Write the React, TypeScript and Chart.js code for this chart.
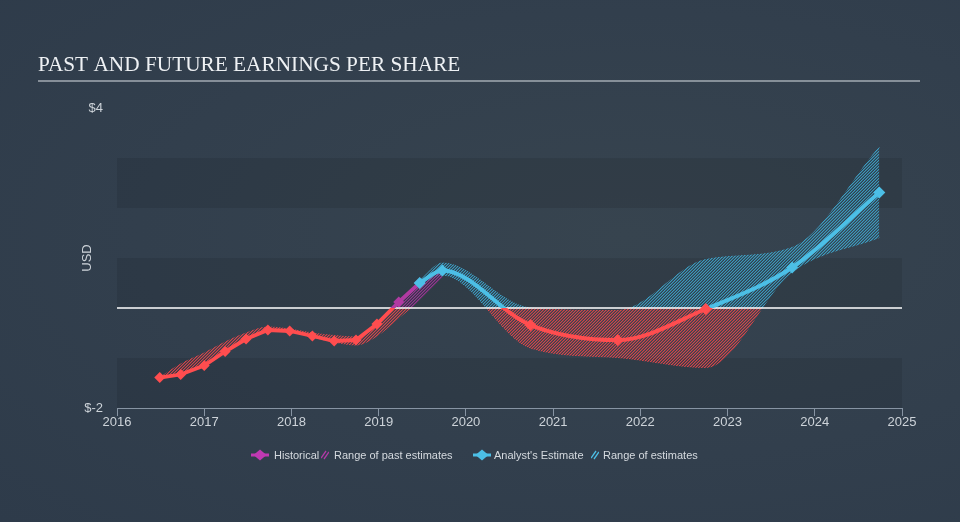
import React, { useEffect, useRef } from 'react';
import { Chart, registerables } from 'chart.js';

Chart.register(...registerables);

// ---------- data ----------
const histYears = [2016.49, 2016.73, 2017.0, 2017.24, 2017.48, 2017.73, 2017.98, 2018.24, 2018.49, 2018.74, 2018.98, 2019.23, 2019.47];
const histEps = [-1.39, -1.33, -1.15, -0.87, -0.62, -0.44, -0.46, -0.56, -0.66, -0.64, -0.32, 0.12, 0.5];

const estYears = [2019.47, 2019.73, 2020.74, 2021.74, 2022.75, 2023.74, 2024.74];
const estEps = [0.5, 0.75, -0.34, -0.64, -0.02, 0.81, 2.31];

const pastRangeYears = [2016.49, 2016.73, 2017.0, 2017.24, 2017.48, 2017.73, 2017.98, 2018.24, 2018.49, 2018.74, 2018.98, 2019.23, 2019.47, 2019.73];
const pastHigh = [-1.39, -1.12, -0.9, -0.68, -0.5, -0.38, -0.42, -0.5, -0.55, -0.58, -0.32, 0.12, 0.5, 0.75];
const pastLow = [-1.39, -1.33, -1.15, -0.87, -0.62, -0.44, -0.46, -0.58, -0.68, -0.74, -0.56, -0.2, 0.16, 0.62];

const estRangeYears = [2019.47, 2019.73, 2020.74, 2021.74, 2022.75, 2023.74, 2024.74];
const estHigh = [0.55, 0.9, 0.0, -0.05, 0.97, 1.21, 3.22];
const estLow = [0.45, 0.66, -0.8, -0.99, -1.19, 0.72, 1.41];

const yTickValues = [-2, 4];
const yTickLabels = ['$-2', '$4'];

const TITLE = 'PAST AND FUTURE EARNINGS PER SHARE';
const legendLabels = ['Historical', 'Range of past estimates', "Analyst's Estimate", 'Range of estimates'];

// ---------- style ----------
const RED = '#ff4d4f';
const MAGENTA = '#b13aa2';
const CYAN = '#4cbfe6';
const RED_RGB = [236, 70, 74];
const MAGENTA_RGB = [168, 50, 158];
const CYAN_RGB = [62, 168, 208];
const AXIS = '#8794a3';
const TEXT = '#cdd3d9';
const BAND = 'rgba(0,0,0,0.09)';
const bandRanges = [[-2, -1], [0, 1], [2, 3]];
const FONT = '"Liberation Sans", Arial, Helvetica, sans-serif';

const toPts = (xs: number[], ys: number[]) => xs.map((x, i) => ({ x, y: ys[i] }));

function splitGradient(chart: any, above: string, below: string) {
  const { ctx, chartArea, scales } = chart;
  if (!chartArea || !scales || !scales.y) return below;
  const z = scales.y.getPixelForValue(0);
  const g = ctx.createLinearGradient(0, chartArea.top, 0, chartArea.bottom);
  let p = (z - chartArea.top) / (chartArea.bottom - chartArea.top);
  p = Math.min(1, Math.max(0, p));
  g.addColorStop(0, above);
  g.addColorStop(p, above);
  g.addColorStop(p, below);
  g.addColorStop(1, below);
  return g;
}

const patternCache: Record<string, any> = {};
function splitPattern(chart: any, above: number[], below: number[]) {
  const { chartArea, scales, width, height, ctx } = chart;
  if (!chartArea || !scales || !scales.y) return `rgba(${below.join(',')},0.35)`;
  const z = Math.round(scales.y.getPixelForValue(0));
  const key = `${chart.id}-${width}-${height}-${z}-${above.join()}-${below.join()}`;
  if (patternCache[key]) return patternCache[key];
  const c = document.createElement('canvas');
  c.width = width;
  c.height = height;
  const g = c.getContext('2d')!;
  const img = g.createImageData(width, height);
  const d = img.data;
  for (let y = 0; y < height; y++) {
    const col = y < z ? above : below;
    for (let x = 0; x < width; x++) {
      const ph = (x + y) % 3;
      const a = ph === 0 ? 215 : ph === 1 ? 100 : 10;
      const i = (y * width + x) * 4;
      d[i] = col[0];
      d[i + 1] = col[1];
      d[i + 2] = col[2];
      d[i + 3] = a;
    }
  }
  g.putImageData(img, 0, 0);
  const pat = ctx.createPattern(c, 'no-repeat');
  patternCache[key] = pat;
  return pat;
}

const bandsPlugin = {
  id: 'bands',
  beforeDraw(chart: any) {
    const { ctx, chartArea, scales } = chart;
    if (!chartArea) return;
    const y = scales.y;
    ctx.save();
    ctx.fillStyle = BAND;
    for (const [a, b] of bandRanges) {
      const t = y.getPixelForValue(b);
      const bt = y.getPixelForValue(a);
      ctx.fillRect(chartArea.left, t, chartArea.right - chartArea.left, bt - t);
    }
    ctx.restore();
  },
};

const underlinePlugin = {
  id: 'underline',
  afterDraw(chart: any) {
    const { ctx } = chart;
    const tb = chart.titleBlock;
    if (!tb) return;
    ctx.save();
    ctx.strokeStyle = '#a3abb3';
    ctx.lineWidth = 1.5;
    ctx.beginPath();
    ctx.moveTo(tb.left, 81);
    ctx.lineTo(920, 81);
    ctx.stroke();
    ctx.restore();
  },
};

function HatchIcon({ color }: { color: string }) {
  return (
    <svg width="8" height="10" style={{ display: 'block' }}>
      <line x1="0" y1="8" x2="5" y2="1" stroke={color} strokeWidth="1.3" />
      <line x1="3" y1="9" x2="8" y2="2" stroke={color} strokeWidth="1.3" />
    </svg>
  );
}

function LineIcon({ color }: { color: string }) {
  return (
    <svg width="18" height="12" style={{ display: 'block' }}>
      <line x1="0" y1="6" x2="18" y2="6" stroke={color} strokeWidth="3" />
      <polygon points="9,0.5 15.5,6 9,11.5 2.5,6" fill={color} />
    </svg>
  );
}

export default function App() {
  const ref = useRef<HTMLCanvasElement>(null);

  useEffect(() => {
    const canvas = ref.current!;
    const chart = new Chart(canvas, {
      type: 'line',
      data: {
        datasets: [
          {
            label: legendLabels[2],
            data: toPts(estYears, estEps),
            borderColor: (c: any) => splitGradient(c.chart, CYAN, RED),
            borderWidth: 4,
            cubicInterpolationMode: 'monotone',
            pointStyle: 'rectRot',
            pointRadius: 6,
            pointBorderWidth: 0,
            pointBackgroundColor: (c: any) => (c.raw && c.raw.y < 0 ? RED : CYAN),
            fill: false,
            order: 0,
          },
          {
            label: legendLabels[0],
            data: toPts(histYears, histEps),
            borderColor: (c: any) => splitGradient(c.chart, MAGENTA, RED),
            borderWidth: 3.8,
            tension: 0,
            pointStyle: 'rectRot',
            pointRadius: 5.5,
            pointBorderWidth: 0,
            pointBackgroundColor: (c: any) => (c.raw && c.raw.y < 0 ? RED : MAGENTA),
            fill: false,
            order: 0,
          },
          {
            label: 'zero',
            data: [{ x: 2016, y: 0 }, { x: 2025, y: 0 }],
            borderColor: '#ffffff',
            borderWidth: 1.5,
            pointRadius: 0,
            fill: false,
            order: 1,
          },
          {
            label: legendLabels[1],
            data: toPts(pastRangeYears, pastHigh),
            borderColor: (c: any) => splitPattern(c.chart, MAGENTA_RGB, RED_RGB),
            backgroundColor: (c: any) => splitPattern(c.chart, MAGENTA_RGB, RED_RGB),
            borderWidth: 1,
            pointRadius: 0,
            cubicInterpolationMode: 'monotone',
            fill: '+1',
            order: 2,
          },
          {
            label: 'past low',
            data: toPts(pastRangeYears, pastLow),
            borderColor: (c: any) => splitPattern(c.chart, MAGENTA_RGB, RED_RGB),
            borderWidth: 1,
            pointRadius: 0,
            cubicInterpolationMode: 'monotone',
            fill: false,
            order: 2,
          },
          {
            label: legendLabels[3],
            data: toPts(estRangeYears, estHigh),
            borderColor: (c: any) => splitPattern(c.chart, CYAN_RGB, RED_RGB),
            backgroundColor: (c: any) => splitPattern(c.chart, CYAN_RGB, RED_RGB),
            borderWidth: 1,
            pointRadius: 0,
            cubicInterpolationMode: 'monotone',
            fill: '+1',
            order: 2,
          },
          {
            label: 'est low',
            data: toPts(estRangeYears, estLow),
            borderColor: (c: any) => splitPattern(c.chart, CYAN_RGB, RED_RGB),
            borderWidth: 1,
            pointRadius: 0,
            cubicInterpolationMode: 'monotone',
            fill: false,
            order: 2,
          },
        ],
      } as any,
      options: {
        responsive: false,
        animation: false,
        events: [],
        layout: { padding: { left: 38, right: 58, top: 0, bottom: 84 } },
        plugins: {
          legend: { display: false },
          tooltip: { enabled: false },
          title: {
            display: true,
            text: TITLE,
            align: 'start',
            color: '#eef1f4',
            font: { family: '"Liberation Serif", "Times New Roman", serif', size: 21.3, weight: 'normal' },
            padding: { top: 53, bottom: 29.5 },
          },
        },
        scales: {
          x: {
            type: 'linear',
            min: 2016,
            max: 2025,
            ticks: {
              stepSize: 1,
              autoSkip: false,
              maxRotation: 0,
              padding: -1,
              color: TEXT,
              font: { family: FONT, size: 13 },
              callback: (v: any) => String(v),
            },
            grid: { drawOnChartArea: false, drawTicks: true, tickLength: 8, color: AXIS, lineWidth: 1 },
            border: { display: true, color: AXIS, width: 1 },
            afterFit: (s: any) => {
              s.height = 30;
            },
          },
          y: {
            type: 'linear',
            min: -2,
            max: 4,
            ticks: {
              stepSize: 1,
              autoSkip: false,
              padding: 14,
              color: TEXT,
              font: { family: FONT, size: 13 },
              callback: (v: any) => {
                const i = yTickValues.indexOf(Number(v));
                return i >= 0 ? yTickLabels[i] : '';
              },
            },
            grid: { display: false, drawTicks: false },
            border: { display: false },
            title: {
              display: true,
              text: 'USD',
              color: TEXT,
              font: { family: FONT, size: 13 },
              padding: { top: 42, bottom: 0 },
            },
            afterFit: (s: any) => {
              s.width = 79;
            },
          },
        },
      } as any,
      plugins: [bandsPlugin, underlinePlugin],
    });
    return () => chart.destroy();
  }, []);

  const legendText: React.CSSProperties = {
    position: 'absolute',
    top: 448,
    fontFamily: FONT,
    fontSize: 11,
    lineHeight: '14px',
    color: '#d5dadf',
    whiteSpace: 'nowrap',
  };
  const iconPos = (left: number, top: number): React.CSSProperties => ({ position: 'absolute', left, top });

  return (
    <div
      style={{
        position: 'fixed',
        left: 0,
        top: 0,
        width: 960,
        height: 522,
        overflow: 'hidden',
        background: 'radial-gradient(ellipse at 65% 45%, #37444f 0%, #323f4d 55%, #2e3b4a 100%)',
      }}
    >
      <canvas ref={ref} width={960} height={522} style={{ position: 'absolute', left: 0, top: 0, width: 960, height: 522 }} />
      <div style={iconPos(251, 449)}><LineIcon color="#c039b2" /></div>
      <div style={{ ...legendText, left: 274 }}>{legendLabels[0]}</div>
      <div style={iconPos(321, 450)}><HatchIcon color="#b23aa6" /></div>
      <div style={{ ...legendText, left: 334 }}>{legendLabels[1]}</div>
      <div style={iconPos(473, 449)}><LineIcon color={CYAN} /></div>
      <div style={{ ...legendText, left: 494 }}>{legendLabels[2]}</div>
      <div style={iconPos(591, 450)}><HatchIcon color={CYAN} /></div>
      <div style={{ ...legendText, left: 603 }}>{legendLabels[3]}</div>
    </div>
  );
}
